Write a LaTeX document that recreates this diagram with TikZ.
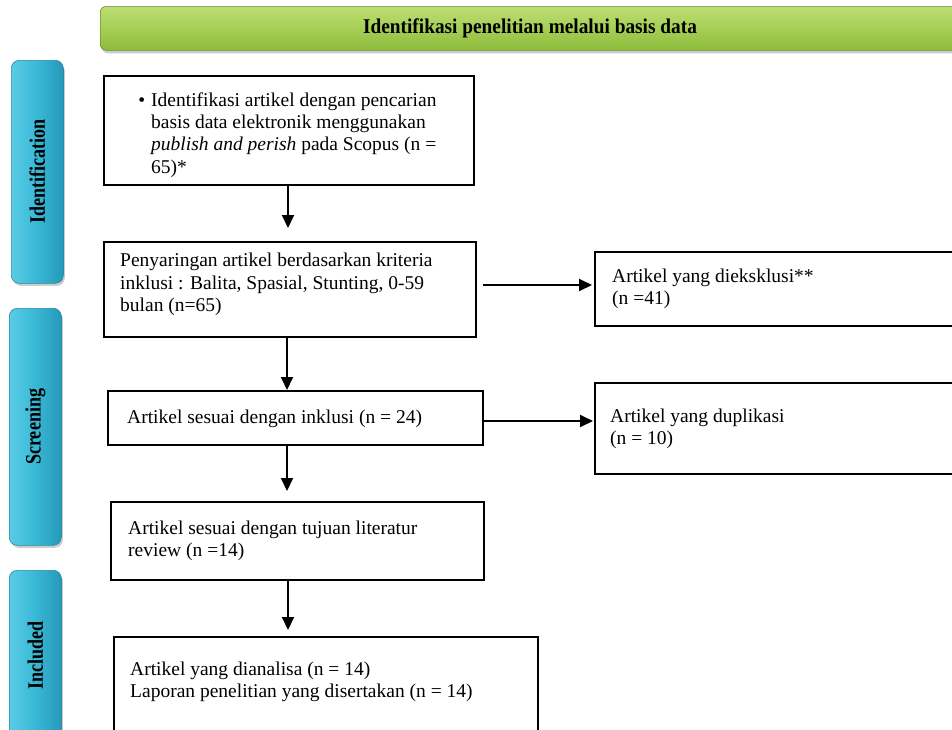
\documentclass[tikz,border=0pt]{standalone}
\usepackage{fontspec}
\setmainfont{Liberation Serif}
\usetikzlibrary{arrows.meta,shadows}
\definecolor{sideL}{HTML}{5ACCE6}
\definecolor{sideM}{HTML}{38B8D6}
\definecolor{sideR}{HTML}{2698B8}
\definecolor{sideB}{HTML}{2A88A4}
\definecolor{grT}{HTML}{BCDE74}
\definecolor{grM}{HTML}{A6CF56}
\definecolor{grB}{HTML}{8DBA3C}
\definecolor{grD}{HTML}{6E8E2C}
\tikzset{
  flowbox/.style={draw=black, line width=1.6pt, rectangle, inner sep=0pt, anchor=north west},
  flowtext/.style={anchor=west, inner sep=0pt, align=left, font=\fontsize{19.5}{22.4}\selectfont},
  sidebox/.style={draw=sideB, line width=0.6pt, rounded corners=8pt, left color=sideL, right color=sideR, middle color=sideM, inner sep=0pt, anchor=north west, drop shadow={shadow xshift=1.5pt, shadow yshift=-2.5pt, opacity=0.4}},
  sidetext/.style={rotate=90, inner sep=0pt, font=\fontsize{22}{24}\selectfont\bfseries},
  arr/.style={line width=1.9pt, -{Triangle[length=13pt,width=12pt]}},
}
\begin{document}
\begin{tikzpicture}[x=1pt,y=-1pt]
\useasboundingbox (0,0) rectangle (952,729);
% header
\node[draw=grD, line width=0.6pt, rounded corners=6pt, top color=grT, bottom color=grB, middle color=grM, minimum width=870pt, minimum height=44pt, inner sep=0pt, anchor=north west, drop shadow={shadow xshift=1.5pt, shadow yshift=-3pt, opacity=0.4}] (hdr) at (100,6) {};
\node[inner sep=0pt, font=\fontsize{21}{24}\selectfont\bfseries] (hdrtext) at (530,28) {\scalebox{0.92}[1]{Identifikasi penelitian melalui basis data}};
% side labels
\node[sidebox, minimum width=52pt, minimum height=223pt] (sid) at (11,60) {};
\node[sidetext] (sidt) at (sid.center) {\scalebox{0.82}[1]{Identification}};
\node[sidebox, minimum width=52pt, minimum height=237pt] (ssc) at (9,308) {};
\node[sidetext] (ssct) at (ssc.center) {\scalebox{0.82}[1]{Screening}};
\node[sidebox, minimum width=52pt, minimum height=170pt] (sin) at (9,570) {};
\node[sidetext] (sint) at (sin.center) {\scalebox{0.82}[1]{Included}};
% boxes
\node[flowbox, minimum width=370pt, minimum height=109pt] (b1) at (103,75) {};
\node[flowtext] (t1) at (151,135) {\llap{\textbullet\hspace{6pt}}Identifikasi artikel dengan pencarian\\basis data elektronik menggunakan\\\textit{publish and perish} pada Scopus (n =\\65)*};
\node[flowbox, minimum width=372pt, minimum height=95pt] (b2) at (103,241) {};
\node[flowtext] (t2) at (120,284.5) {Penyaringan artikel berdasarkan kriteria\\inklusi : Balita, Spasial, Stunting, 0-59\\bulan (n=65)};
\node[flowbox, minimum width=375pt, minimum height=54pt] (b3) at (107,390) {};
\node[flowtext] (t3) at (127,419) {Artikel sesuai dengan inklusi (n = 24)};
\node[flowbox, minimum width=373pt, minimum height=78pt] (b4) at (110,501) {};
\node[flowtext] (t4) at (128,541) {Artikel sesuai dengan tujuan literatur\\review (n =14)};
\node[flowbox, minimum width=424pt, minimum height=110pt] (b5) at (113,636) {};
\node[flowtext] (t5) at (130,682) {Artikel yang dianalisa (n = 14)\\Laporan penelitian yang disertakan (n = 14)};
\node[flowbox, minimum width=370pt, minimum height=74pt] (r1) at (594,251) {};
\node[flowtext] (tr1) at (612,289) {Artikel yang dieksklusi**\\(n =41)};
\node[flowbox, minimum width=370pt, minimum height=91pt] (r2) at (594,382) {};
\node[flowtext] (tr2) at (610,429) {Artikel yang duplikasi\\(n = 10)};
% connectors
\coordinate (cx1) at (288,0);
\coordinate (cx2) at (287,0);
\coordinate (cx3) at (288,0);
\draw[arr, shorten >=13pt] (b1.south -| cx1) -- (b2.north -| cx1);
\draw[arr] (b2.south -| cx2) -- (b3.north -| cx2);
\draw[arr, shorten >=10pt] (b3.south -| cx2) -- (b4.north -| cx2);
\draw[arr, shorten >=6pt] (b4.south -| cx3) -- (b5.north -| cx3);
\coordinate (cy1) at (0,285);
\coordinate (cy2) at (0,421);
\draw[arr, shorten <=6pt, shorten >=2pt] (b2.east |- cy1) -- (r1.west |- cy1);
\draw[arr, shorten >=1pt] (b3.east |- cy2) -- (r2.west |- cy2);
\end{tikzpicture}
\end{document}
